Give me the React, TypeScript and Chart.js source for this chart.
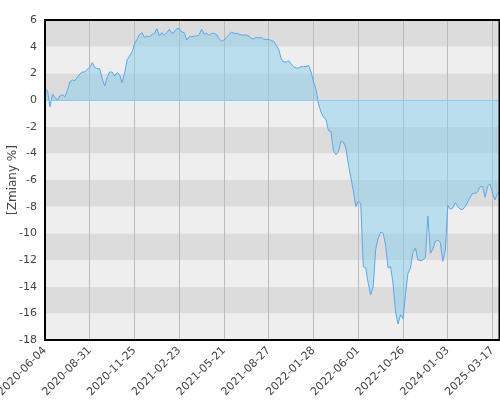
import { useEffect, useRef } from 'react';
import { Chart, registerables } from 'chart.js';

Chart.register(...registerables);
Chart.defaults.font.family = 'DejaVu Sans';

// tick dates shown on the x axis, one every TICK_STEP points
const tickDates = [
  '2020-06-04', '2020-08-31', '2020-11-25', '2021-02-23', '2021-05-21', '2021-08-27',
  '2022-01-28', '2022-06-01', '2022-10-26', '2024-01-03', '2025-03-17',
];
const TICK_STEP = 18;

// [Zmiany %]
const changes = [
  0.9, 0.7, -0.5, 0.45, 0.2, 0.0, 0.3, 0.4, 0.25, 0.7,
  1.35, 1.5, 1.45, 1.7, 1.95, 2.1, 2.1, 2.3, 2.45, 2.8,
  2.45, 2.35, 2.35, 1.6, 1.05, 1.7, 2.1, 2.1, 1.8, 2.05,
  1.9, 1.3, 2.0, 3.0, 3.3, 3.6, 4.2, 4.55, 4.9, 5.05,
  4.7, 4.8, 4.75, 4.9, 5.0, 5.35, 4.8, 5.05, 4.85, 5.05,
  5.3, 5.0, 5.1, 5.35, 5.35, 5.1, 5.05, 4.5, 4.75, 4.75,
  4.8, 4.8, 4.9, 5.3, 4.95, 5.0, 4.85, 5.0, 5.0, 4.9,
  4.6, 4.4, 4.5, 4.7, 4.9, 5.1, 5.0, 5.0, 4.95, 4.87,
  4.87, 4.87, 4.8, 4.6, 4.6, 4.7, 4.65, 4.7, 4.55, 4.55,
  4.55, 4.45, 4.4, 4.1, 3.8, 3.1, 2.85, 2.85, 2.95, 2.7,
  2.5, 2.4, 2.4, 2.5, 2.5, 2.5, 2.6, 2.1, 1.35, 0.8,
  -0.3, -0.9, -1.3, -1.45, -2.3, -2.35, -3.8, -4.1, -3.9, -3.1,
  -3.15, -3.6, -4.8, -5.8, -6.8, -8.0, -7.6, -7.75, -12.5, -12.6,
  -13.75, -14.6, -14.0, -11.2, -10.4, -9.9, -10.0, -10.9, -12.6, -12.5,
  -13.8, -15.9, -16.8, -16.1, -16.4, -14.5, -13.0, -12.6, -11.4, -11.1,
  -12.0, -12.05, -12.0, -11.8, -8.7, -11.5, -11.2, -10.6, -10.5, -10.7,
  -12.1, -11.25, -7.9, -8.2, -8.1, -7.7, -8.0, -8.2, -8.2, -8.0,
  -7.65, -7.3, -7.0, -7.0, -6.9, -6.5, -6.5, -7.3, -6.5, -6.3,
  -7.0, -7.5, -7.0, -6.9,
];

const labels = changes.map((_, i) => (i % TICK_STEP === 0 ? tickDates[i / TICK_STEP] ?? '' : ''));

const Y_MIN = -18;
const Y_MAX = 6;

const framePlugin = {
  id: 'frame',
  beforeDraw(chart: Chart) {
    const { ctx, chartArea } = chart;
    const y = chart.scales.y;
    ctx.save();
    for (let v = Y_MIN; v < Y_MAX; v += 2) {
      const top = y.getPixelForValue(v + 2);
      const bottom = y.getPixelForValue(v);
      ctx.fillStyle = ((v + 2) / 2) % 2 !== 0 ? '#dcdcdc' : '#eeeeee';
      ctx.fillRect(chartArea.left, top, chartArea.right - chartArea.left, bottom - top);
    }
    ctx.restore();
  },
  afterDatasetsDraw(chart: Chart) {
    const { ctx, chartArea } = chart;
    const y0 = Math.round(chart.scales.y.getPixelForValue(0)) + 0.5;
    ctx.save();
    ctx.strokeStyle = '#87cefa';
    ctx.lineWidth = 1;
    ctx.beginPath();
    ctx.moveTo(chartArea.left, y0);
    ctx.lineTo(chartArea.right, y0);
    ctx.stroke();
    ctx.restore();
  },
  afterDraw(chart: Chart) {
    const { ctx, chartArea } = chart;
    ctx.save();
    ctx.strokeStyle = '#000';
    ctx.lineWidth = 2;
    ctx.strokeRect(chartArea.left, chartArea.top, chartArea.right - chartArea.left - 0.5, chartArea.bottom - chartArea.top);
    ctx.restore();
  },
};

export default function App() {
  const canvasRef = useRef<HTMLCanvasElement>(null);

  useEffect(() => {
    if (!canvasRef.current) return;
    const chart = new Chart(canvasRef.current, {
      type: 'line',
      data: {
        labels,
        datasets: [
          {
            label: 'Zmiany',
            data: changes,
            borderColor: '#5aa7ee',
            backgroundColor: 'rgba(135,206,235,0.5)',
            borderWidth: 1,
            pointRadius: 0,
            tension: 0,
            fill: 'origin',
          },
        ],
      },
      options: {
        animation: false,
        responsive: true,
        maintainAspectRatio: false,
        layout: { padding: { top: 20, left: 0, right: 0, bottom: 0 } },
        plugins: { legend: { display: false }, tooltip: { enabled: false } },
        scales: {
          x: {
            grid: { color: '#bbbbbb', lineWidth: 1, drawTicks: false },
            border: { display: false },
            ticks: {
              autoSkip: false,
              maxRotation: 45,
              minRotation: 45,
              padding: 4,
              color: '#444',
              font: { size: 11 },
              callback: (_v, i) => (labels[i] ? labels[i] : null),
            },
            afterFit: (scale) => {
              scale.height = 60;
              scale.paddingLeft = 0;
              scale.paddingRight = 0;
            },
          },
          y: {
            min: Y_MIN,
            max: Y_MAX,
            grid: { display: false, drawTicks: false },
            border: { display: false },
            ticks: { stepSize: 2, padding: 8, color: '#444', font: { size: 11 } },
            title: {
              display: true,
              text: '[Zmiany %]',
              color: '#444',
              font: { size: 12 },
              padding: { top: 6, bottom: 0 },
            },
            afterFit: (scale) => {
              scale.width = 45;
            },
          },
        },
      },
      plugins: [framePlugin],
    });
    return () => chart.destroy();
  }, []);

  return (
    <div style={{ position: 'fixed', left: 0, top: 0, width: 500, height: 400 }}>
      <canvas ref={canvasRef} />
    </div>
  );
}
